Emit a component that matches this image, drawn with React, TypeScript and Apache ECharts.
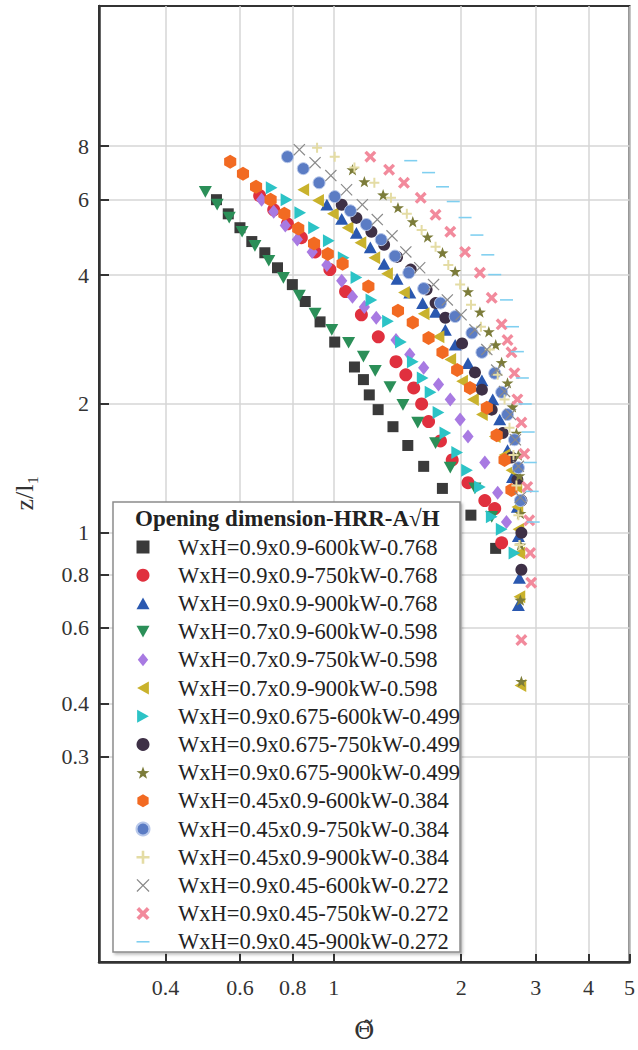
import React, { useEffect, useRef } from "react";
import * as echarts from "echarts";

const FONT = '"Liberation Serif", "Times New Roman", serif';

const legendTitle = "Opening dimension-HRR-A\u221AH";
const xAxisName = "\u0398\u0303";
const yAxisName = "z/l\u2081";

const xTicks = [0.4, 0.6, 0.8, 1, 2, 3, 4, 5];
const yTicks = [0.3, 0.4, 0.6, 0.8, 1, 2, 4, 6, 8];

const seriesNames = [
  "WxH=0.9x0.9-600kW-0.768",
  "WxH=0.9x0.9-750kW-0.768",
  "WxH=0.9x0.9-900kW-0.768",
  "WxH=0.7x0.9-600kW-0.598",
  "WxH=0.7x0.9-750kW-0.598",
  "WxH=0.7x0.9-900kW-0.598",
  "WxH=0.9x0.675-600kW-0.499",
  "WxH=0.9x0.675-750kW-0.499",
  "WxH=0.9x0.675-900kW-0.499",
  "WxH=0.45x0.9-600kW-0.384",
  "WxH=0.45x0.9-750kW-0.384",
  "WxH=0.45x0.9-900kW-0.384",
  "WxH=0.9x0.45-600kW-0.272",
  "WxH=0.9x0.45-750kW-0.272",
  "WxH=0.9x0.45-900kW-0.272",
];

// [Theta, z/l1]
const w09h09_600 = [[0.528, 6.0], [0.563, 5.56], [0.6, 5.16], [0.64, 4.79], [0.687, 4.51], [0.736, 4.16], [0.798, 3.8], [0.856, 3.47], [0.928, 3.11], [1.005, 2.79], [1.119, 2.44], [1.175, 2.28], [1.213, 2.1], [1.273, 1.94], [1.38, 1.77], [1.496, 1.6], [1.631, 1.43], [1.806, 1.27], [2.109, 1.1], [2.413, 0.92]];
const w09h09_750 = [[0.668, 6.13], [0.721, 5.68], [0.777, 5.27], [0.838, 4.89], [0.903, 4.53], [0.979, 4.12], [1.066, 3.66], [1.162, 3.23], [1.274, 2.87], [1.403, 2.51], [1.48, 2.34], [1.545, 2.18], [1.613, 2.0], [1.675, 1.82], [1.787, 1.64], [1.905, 1.48], [2.076, 1.31], [2.275, 1.19], [2.401, 1.14], [2.493, 0.948]];
const w09h09_900 = [[0.963, 5.84], [1.044, 5.41], [1.131, 5.02], [1.22, 4.64], [1.315, 4.25], [1.411, 3.92], [1.512, 3.64], [1.622, 3.44], [1.74, 3.28], [1.835, 2.98], [1.936, 2.75], [2.076, 2.49], [2.239, 2.27], [2.375, 2.05], [2.467, 1.84], [2.574, 1.56], [2.645, 1.35], [2.716, 1.15], [2.731, 0.982], [2.746, 0.785], [2.731, 0.678]];
const w07h09_600 = [[0.497, 6.26], [0.53, 5.84], [0.566, 5.45], [0.607, 5.05], [0.651, 4.68], [0.702, 4.32], [0.76, 3.94], [0.829, 3.58], [0.903, 3.25], [0.989, 2.98], [1.084, 2.78], [1.175, 2.58], [1.253, 2.39], [1.358, 2.19], [1.457, 1.99], [1.579, 1.81], [1.74, 1.62], [1.885, 1.42], [2.156, 1.27], [2.362, 1.09]];
const w07h09_750 = [[0.675, 6.0], [0.721, 5.62], [0.768, 5.22], [0.82, 4.84], [0.889, 4.53], [0.963, 4.22], [1.044, 3.88], [1.107, 3.56], [1.181, 3.37], [1.26, 3.18], [1.403, 2.82], [1.512, 2.61], [1.631, 2.43], [1.768, 2.22], [1.885, 2.05], [1.989, 1.84], [2.076, 1.68], [2.275, 1.46], [2.44, 1.24], [2.56, 1.06]];
const w07h09_900 = [[0.847, 6.33], [0.918, 5.97], [0.995, 5.56], [1.078, 5.16], [1.156, 4.76], [1.247, 4.39], [1.336, 4.03], [1.465, 3.64], [1.631, 3.25], [1.768, 2.87], [1.885, 2.54], [2.01, 2.26], [2.133, 2.05], [2.239, 1.89], [2.401, 1.68], [2.533, 1.52], [2.63, 1.4], [2.702, 1.28], [2.716, 1.15], [2.731, 1.02], [2.746, 0.898], [2.746, 0.709], [2.761, 0.44]];
const w09h0675_600 = [[0.713, 6.4], [0.773, 6.0], [0.833, 5.59], [0.898, 5.16], [0.973, 4.81], [1.055, 4.39], [1.131, 3.95], [1.227, 3.5], [1.343, 3.12], [1.441, 2.79], [1.537, 2.51], [1.622, 2.3], [1.693, 2.13], [1.768, 1.91], [1.835, 1.71], [1.957, 1.54], [2.065, 1.4], [2.215, 1.28], [2.362, 1.09], [2.493, 1.02], [2.673, 0.898]];
const w09h0675_750 = [[1.044, 5.84], [1.131, 5.44], [1.227, 5.05], [1.315, 4.71], [1.411, 4.41], [1.52, 4.12], [1.657, 3.7], [1.74, 3.44], [1.835, 3.18], [2.01, 2.77], [2.156, 2.37], [2.239, 2.16], [2.362, 1.94], [2.507, 1.71], [2.63, 1.5], [2.716, 1.33], [2.776, 1.19], [2.776, 1.0], [2.776, 0.82]];
const w09h0675_900 = [[1.107, 7.05], [1.181, 6.61], [1.308, 6.16], [1.418, 5.75], [1.537, 5.33], [1.666, 4.91], [1.807, 4.51], [1.936, 4.08], [2.076, 3.66], [2.215, 3.28], [2.325, 2.95], [2.414, 2.75], [2.493, 2.5], [2.574, 2.24], [2.645, 1.97], [2.702, 1.71], [2.731, 1.52], [2.746, 1.36], [2.761, 1.11], [2.761, 0.937], [2.761, 0.697], [2.776, 0.45]];
const w045h09_600 = [[0.569, 7.36], [0.61, 6.9], [0.655, 6.43], [0.709, 6.0], [0.764, 5.56], [0.824, 5.14], [0.898, 4.74], [0.968, 4.48], [1.049, 4.25], [1.207, 3.76], [1.418, 3.3], [1.537, 3.1], [1.675, 2.85], [1.807, 2.64], [1.957, 2.4], [2.099, 2.18], [2.3, 1.96], [2.427, 1.69], [2.533, 1.48], [2.63, 1.26]];
const w045h09_750 = [[0.777, 7.56], [0.847, 7.09], [0.923, 6.57], [1.005, 6.1], [1.095, 5.65], [1.194, 5.25], [1.294, 4.84], [1.395, 4.43], [1.504, 4.05], [1.631, 3.72], [1.787, 3.44], [1.936, 3.2], [2.121, 2.93], [2.239, 2.64], [2.401, 2.36], [2.493, 2.13], [2.574, 1.89], [2.673, 1.65], [2.731, 1.42], [2.761, 1.19]];
const w045h09_900 = [[0.913, 7.93], [1.005, 7.56], [1.119, 7.13], [1.247, 6.57], [1.365, 6.06], [1.488, 5.56], [1.613, 5.1], [1.74, 4.66], [1.865, 4.22], [1.989, 3.8], [2.11, 3.41], [2.227, 3.03], [2.337, 2.68], [2.44, 2.34], [2.533, 2.05], [2.602, 1.76], [2.659, 1.52], [2.702, 1.29], [2.731, 1.1], [2.746, 0.937]];
const w09h045_600 = [[0.829, 7.85], [0.903, 7.32], [0.984, 6.83], [1.072, 6.33], [1.168, 5.84], [1.267, 5.39], [1.373, 4.94], [1.48, 4.53], [1.596, 4.16], [1.721, 3.8], [1.855, 3.5], [1.999, 3.23], [2.156, 2.98], [2.3, 2.68], [2.427, 2.4], [2.533, 2.14], [2.616, 1.89], [2.687, 1.65], [2.731, 1.43], [2.761, 1.21]];
const w09h045_750 = [[1.22, 7.56], [1.351, 7.05], [1.465, 6.57], [1.605, 6.06], [1.74, 5.53], [1.885, 5.05], [2.043, 4.53], [2.215, 4.05], [2.362, 3.54], [2.493, 3.07], [2.574, 2.82], [2.63, 2.64], [2.673, 2.36], [2.716, 2.05], [2.776, 1.81], [2.82, 1.53], [2.866, 1.28], [2.897, 1.07], [2.913, 0.898], [2.928, 0.765], [2.776, 0.562]];
const w09h045_900 = [[1.52, 7.4], [1.675, 6.94], [1.807, 6.43], [1.916, 5.94], [2.043, 5.45], [2.179, 4.96], [2.312, 4.46], [2.401, 4.01], [2.56, 3.5], [2.645, 3.03], [2.716, 2.65], [2.791, 2.3], [2.835, 2.0], [2.881, 1.72], [2.913, 1.46], [2.944, 1.25], [2.96, 1.06]];

const seriesData = [
  w09h09_600, w09h09_750, w09h09_900,
  w07h09_600, w07h09_750, w07h09_900,
  w09h0675_600, w09h0675_750, w09h0675_900,
  w045h09_600, w045h09_750, w045h09_900,
  w09h045_600, w09h045_750, w09h045_900,
];

const STAR = "path://M0,-10 L2.35,-3.24 L9.51,-3.09 L3.8,1.24 L5.88,8.09 L0,4 L-5.88,8.09 L-3.8,1.24 L-9.51,-3.09 L-2.35,-3.24 Z";
const HEX = "path://M0,-10 L8.66,-5 L8.66,5 L0,10 L-8.66,5 L-8.66,-5 Z";
const UP = "path://M0,-9 L10,9 L-10,9 Z";
const DOWN = "path://M-10,-9 L10,-9 L0,9 Z";
const LEFT = "path://M-9,0 L9,-10 L9,10 Z";
const RIGHT = "path://M9,0 L-9,-10 L-9,10 Z";
const DIAMOND = "path://M0,-10 L8,0 L0,10 L-8,0 Z";
const SQUARE = "path://M-10,-10 L10,-10 L10,10 L-10,10 Z";
const THINX = "path://M-10,-8.6 L-8.6,-10 L0,-1.4 L8.6,-10 L10,-8.6 L1.4,0 L10,8.6 L8.6,10 L0,1.4 L-8.6,10 L-10,8.6 L-1.4,0 Z";
const BOLDX = "path://M-10,-6 L-6,-10 L0,-4 L6,-10 L10,-6 L4,0 L10,6 L6,10 L0,4 L-6,10 L-10,6 L-4,0 Z";
const PLUS = "path://M-2,-10 L2,-10 L2,-2 L10,-2 L10,2 L2,2 L2,10 L-2,10 L-2,2 L-10,2 L-10,-2 L-2,-2 Z";
const DASH = "path://M-10,-1.2 L10,-1.2 L10,1.2 L-10,1.2 Z";

const markerStyles = [
  { symbol: SQUARE, size: 11, color: "#3a3a3a" },
  { symbol: "circle", size: 13, color: "#e0303e" },
  { symbol: UP, size: 13, color: "#2a58b0" },
  { symbol: DOWN, size: 13, color: "#2b8f58" },
  { symbol: DIAMOND, size: 14, color: "#a87ae2" },
  { symbol: LEFT, size: 13, color: "#c9b22c" },
  { symbol: RIGHT, size: 13, color: "#2cc3c6" },
  { symbol: "circle", size: 12, color: "#3e3046" },
  { symbol: STAR, size: 12, color: "#7c7c3a" },
  { symbol: HEX, size: 14, color: "#f26a22" },
  { symbol: "circle", size: 12, color: "#5b7cc4", border: "#b8c8ea" },
  { symbol: PLUS, size: 10, color: "#e4dca4" },
  { symbol: THINX, size: 12, color: "#8a8a8a" },
  { symbol: BOLDX, size: 12, color: "#f28a9c" },
  { symbol: DASH, size: 13, color: "#7fcff0" },
];

const fmt = (v: number) => String(Math.round(v * 100) / 100);

export default function App() {
  const ref = useRef<HTMLDivElement>(null);
  useEffect(() => {
    if (!ref.current) return;
    const chart = echarts.init(ref.current, undefined, { renderer: "svg" });
    const series = seriesNames.map((name, i) => ({
      type: "scatter",
      name,
      data: seriesData[i],
      symbol: markerStyles[i].symbol,
      symbolSize: markerStyles[i].size,
      symbolKeepAspect: true,
      itemStyle: {
        color: markerStyles[i].color,
        opacity: 1,
        borderColor: markerStyles[i].border || undefined,
        borderWidth: markerStyles[i].border ? 1 : 0,
      },
      emphasis: { disabled: true },
      z: 2,
    }));
    chart.setOption({
      animation: false,
      backgroundColor: "#ffffff",
      textStyle: { fontFamily: FONT },
      grid: {
        left: 99, top: 6, width: 537, height: 956,
        show: true, borderColor: "#333", borderWidth: 2, backgroundColor: "transparent",
      },
      xAxis: {
        type: "log", logBase: 10, min: 0.2786, max: 5,
        name: xAxisName, nameLocation: "middle", nameGap: 56,
        nameTextStyle: { fontFamily: '"DejaVu Serif", serif', fontSize: 25, color: "#333" },
        axisLine: { show: true, lineStyle: { color: "#333", width: 2.5 } },
        axisTick: { show: true, inside: true, length: 8, customValues: xTicks, lineStyle: { color: "#333", width: 2 } },
        axisLabel: { customValues: xTicks, margin: 14, fontFamily: FONT, fontSize: 22, color: "#333", formatter: fmt },
        splitLine: { show: true, lineStyle: { color: "#d6d6d6", width: 1.5 } },
        minorTick: { show: false },
        minorSplitLine: { show: false },
      },
      yAxis: {
        type: "log", logBase: 10, min: 0.0995, max: 17,
        name: yAxisName, nameLocation: "middle", nameGap: 62,
        nameTextStyle: { fontFamily: FONT, fontSize: 26, color: "#333", padding: [0, 18, 0, 0] },
        axisLine: { show: true, lineStyle: { color: "#333", width: 2.5 } },
        axisTick: { show: true, inside: true, length: 10, customValues: yTicks, lineStyle: { color: "#333", width: 2 } },
        axisLabel: { customValues: yTicks, margin: 10, fontFamily: FONT, fontSize: 22, color: "#333", formatter: fmt },
        splitLine: { show: true, lineStyle: { color: "#d6d6d6", width: 1.5 } },
        minorTick: { show: false },
        minorSplitLine: { show: false },
      },
      legend: {
        orient: "vertical",
        left: 135.5, top: 535,
        itemWidth: 13, itemHeight: 13, itemGap: 4.2,
        padding: 0,
        selectedMode: false,
        z: 20,
        data: seriesNames,
        textStyle: { fontFamily: FONT, fontSize: 22.5, color: "#222", lineHeight: 24, padding: [0, 0, 0, 23.5] },
      },
      graphic: [
        {
          type: "rect", z: 15,
          shape: { x: 113, y: 502, width: 347, height: 450 },
          style: { fill: "#fff", stroke: "#8c8c8c", lineWidth: 1.5, shadowBlur: 3, shadowOffsetX: 2, shadowOffsetY: 2, shadowColor: "rgba(0,0,0,0.25)" },
        },
        {
          type: "text", z: 21, x: 135, y: 518,
          style: { text: legendTitle, fontFamily: FONT, fontSize: 23, fontWeight: "bold", fill: "#222", verticalAlign: "middle" },
        },
      ],
      series,
    });
    return () => chart.dispose();
  }, []);
  return <div ref={ref} style={{ position: "absolute", left: 0, top: 0, width: 638, height: 1050 }} />;
}
